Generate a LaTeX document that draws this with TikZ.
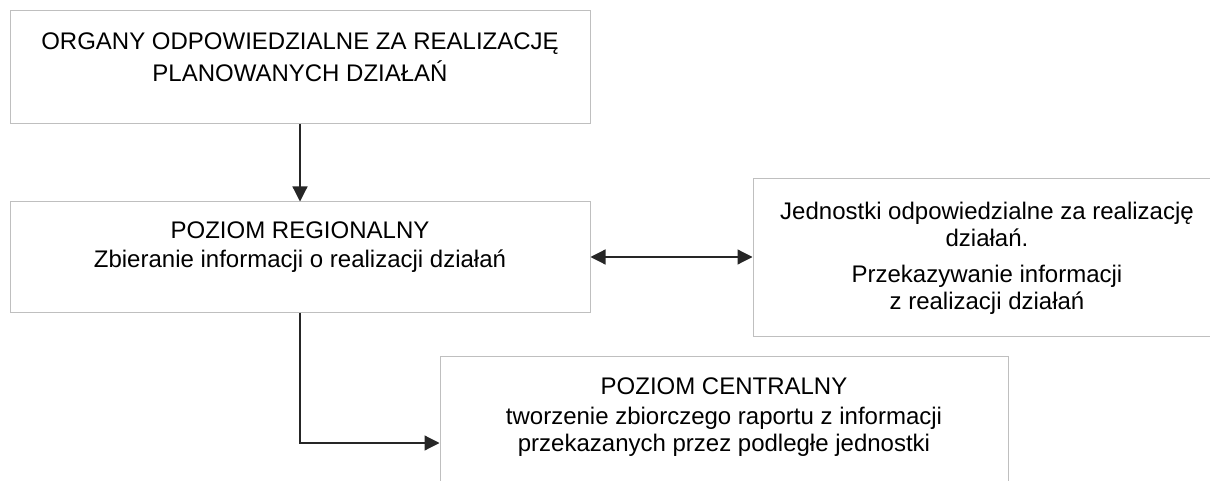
\documentclass[tikz,border=0pt]{standalone}
\usepackage{fontspec}
\setmainfont{Liberation Sans}
\usetikzlibrary{arrows.meta, positioning}
\definecolor{boxgray}{RGB}{191,191,191}
\definecolor{linedark}{RGB}{38,38,38}

\begin{document}
\begin{tikzpicture}[
        x=1pt, y=-1pt,
        box/.style={rectangle, draw=boxgray, line width=1pt, inner sep=0pt},
        txt/.style={inner sep=0pt, align=center, font=\fontsize{24}{27}\selectfont},
        arrow/.style={-{Triangle[length=15pt, width=15pt]}, line width=1.2pt, linedark},
        dblarrow/.style={{Triangle[length=15pt, width=15pt]}-{Triangle[length=15pt, width=15pt]}, line width=1.2pt, linedark}
    ]
        \useasboundingbox (0,0) rectangle (1210,481);

        % Boxes
        \node[box, minimum width=580pt, minimum height=113pt] (organy) at (300,67.3) {};
        \node[box, minimum width=580pt, minimum height=110pt] (regionalny) at (300,257) {};
        \node[box, minimum width=468pt, minimum height=157pt] (jednostki) at (987,257.5) {};
        \node[box, minimum width=568pt, minimum height=172.6pt] (centralny) at (724,443) {};

        % Texts
        \node[txt, below=22pt of organy.north] (organytxt) {ORGANY ODPOWIEDZIALNE ZA REALIZACJĘ\\[5pt]PLANOWANYCH DZIAŁAŃ};
        \node[txt, below=20.5pt of regionalny.north] (regionalnytxt) {POZIOM REGIONALNY\\[2pt]Zbieranie informacji o realizacji działań};
        \node[txt, below=23.5pt of jednostki.north] (jednostkitxt) {Jednostki odpowiedzialne za realizację\\działań.\\[9pt]Przekazywanie informacji\\z realizacji działań};
        \node[txt, below=21pt of centralny.north] (centralnytxt) {POZIOM CENTRALNY\\[3pt]tworzenie zbiorczego raportu z informacji\\przekazanych przez podległe jednostki};

        % Connectors
        \draw[arrow] (organy) -- (regionalny);
        \draw[dblarrow] (regionalny.east) -- (jednostki.west |- regionalny.east);
        \draw[arrow] (regionalny.south) |- (centralny.west);

    \end{tikzpicture}
\end{document}
